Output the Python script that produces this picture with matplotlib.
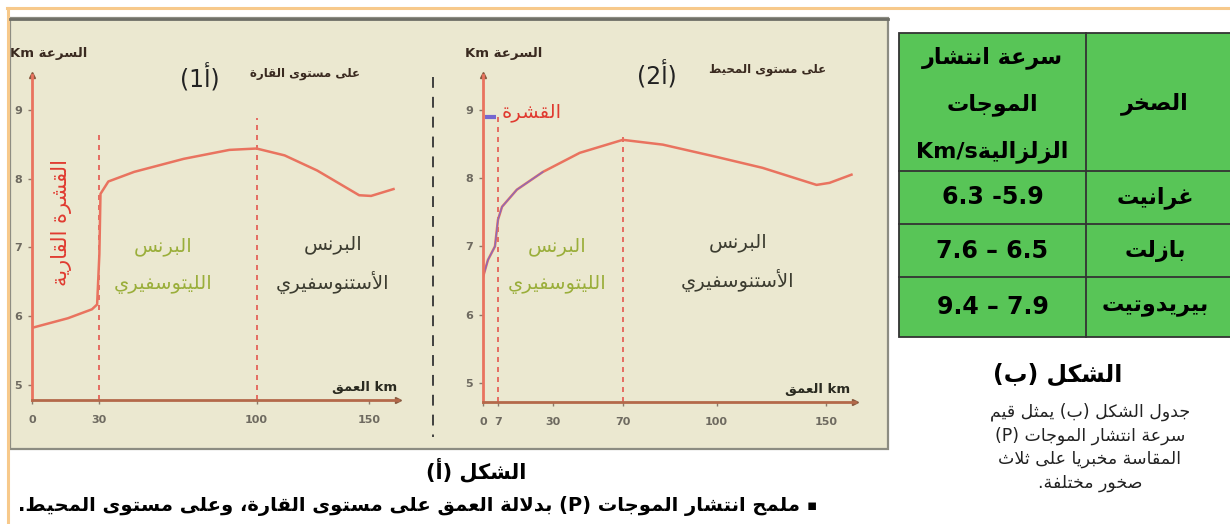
import re
import numpy as np
import matplotlib
matplotlib.use('Agg')
import matplotlib.pyplot as plt
from matplotlib.patches import Rectangle

plt.rcParams['font.family'] = ['DejaVu Sans']

# ---------------- data ----------------
cont_depth = [0, 16, 26.7, 29, 30, 30.5, 34, 45.5, 67.6, 87.9, 100, 112.5, 127, 145.7, 151, 161]
cont_speed = [5.83, 5.97, 6.1, 6.17, 6.9, 7.78, 7.96, 8.1, 8.29, 8.42, 8.44, 8.34, 8.12, 7.76, 7.75, 7.85]
ocean_depth = [0, 2.3, 5.6, 7, 8.7, 14.9, 25.8, 45.4, 70, 82.8, 100, 120.9, 145.5, 151.4, 161.4]
ocean_speed = [6.55, 6.8, 7.0, 7.39, 7.58, 7.83, 8.09, 8.37, 8.56, 8.49, 8.31, 8.15, 7.9, 7.93, 8.05]

speed_ticks = [5, 6, 7, 8, 9]
cont_xticks = [0, 30, 100, 150]
ocean_xticks = [0, 7, 30, 70, 100, 150]
cont_limits = [30, 100]
cont_limit_top = [8.65, 8.88]
ocean_limits = [7, 70]
ocean_limit_top = [8.9, 8.6]

rocks = ['غرانيت', 'بازلت', 'بيريدوتيت']
speed_ranges = ['6.3 -5.9', '7.6 – 6.5', '9.4 – 7.9']
header_speed = ['سرعة انتشار', 'الموجات', 'الزلزاليةKm/s']
header_rock = 'الصخر'
note_lines = ['جدول الشكل (ب) يمثل قيم', 'سرعة انتشار الموجات (P)',
              'المقاسة مخبريا على ثلاث', 'صخور مختلفة.']

# ---------------- minimal arabic shaping ----------------
AR_FORMS = {'ا': (0xFE8D, 2), 'أ': (0xFE83, 2), 'إ': (0xFE87, 2), 'آ': (0xFE81, 2),
            'ب': (0xFE8F, 4), 'ة': (0xFE93, 2), 'ت': (0xFE95, 4), 'ث': (0xFE99, 4),
            'ج': (0xFE9D, 4), 'ح': (0xFEA1, 4), 'خ': (0xFEA5, 4), 'د': (0xFEA9, 2),
            'ذ': (0xFEAB, 2), 'ر': (0xFEAD, 2), 'ز': (0xFEAF, 2), 'س': (0xFEB1, 4),
            'ش': (0xFEB5, 4), 'ص': (0xFEB9, 4), 'ض': (0xFEBD, 4), 'ط': (0xFEC1, 4),
            'ظ': (0xFEC5, 4), 'ع': (0xFEC9, 4), 'غ': (0xFECD, 4), 'ف': (0xFED1, 4),
            'ق': (0xFED5, 4), 'ك': (0xFED9, 4), 'ل': (0xFEDD, 4), 'م': (0xFEE1, 4),
            'ن': (0xFEE5, 4), 'ه': (0xFEE9, 4), 'و': (0xFEED, 2), 'ى': (0xFEEF, 2),
            'ي': (0xFEF1, 4)}
LAM_ALEF = {'ا': 0xFEFB, 'أ': 0xFEF7, 'إ': 0xFEF9, 'آ': 0xFEF5}


def shape(s):
    items = []
    i = 0
    while i < len(s):
        if s[i] == 'ل' and i + 1 < len(s) and s[i + 1] in LAM_ALEF:
            items.append(('LA', LAM_ALEF[s[i + 1]]))
            i += 2
        else:
            items.append((s[i], None))
            i += 1

    def joins_next(it):
        return it[1] is None and it[0] in AR_FORMS and AR_FORMS[it[0]][1] == 4

    def is_ar(it):
        return it[1] is not None or it[0] in AR_FORMS

    out = []
    for k, (c, lig) in enumerate(items):
        prev_j = k > 0 and joins_next(items[k - 1])
        next_ar = k + 1 < len(items) and is_ar(items[k + 1])
        if lig is not None:
            out.append(chr(lig + (1 if prev_j else 0)))
        elif c in AR_FORMS:
            base, n = AR_FORMS[c]
            nxt = n == 4 and next_ar
            off = 3 if (prev_j and nxt) else 2 if nxt else 1 if prev_j else 0
            out.append(chr(base + off))
        else:
            out.append(c)
    return ''.join(out)


def ar(s):
    t = shape(s)[::-1]
    t = re.sub(r'[A-Za-z0-9][A-Za-z0-9./]*', lambda m: m.group(0)[::-1], t)
    return t.translate(str.maketrans('()', ')('))


# ---------------- figure ----------------
W, H = 1230, 524
fig = plt.figure(figsize=(W / 100, H / 100), dpi=100)
fig.patch.set_facecolor('white')

bg = fig.add_axes([0, 0, 1, 1])
bg.set_xlim(0, W)
bg.set_ylim(H, 0)
bg.axis('off')

# outer orange frame lines
bg.plot([7, W], [8, 8], color='#f7c98b', lw=2.2)
bg.plot([8, 8], [8, H], color='#f7c98b', lw=2.2)

# beige panel
bg.add_patch(Rectangle((10, 18), 878, 431, facecolor='#ebe8d0', edgecolor='#8c8c82', lw=1.6))
bg.plot([10, 888], [18.5, 18.5], color='#6e6e66', lw=2)
# separator
bg.plot([433, 433], [77, 437], color='#333333', lw=1.3, dashes=(6, 5))

curve_red = '#e9735f'
dash_red = '#e4574f'


def px_axes(x0, x1, ytop, ybot):
    return fig.add_axes([x0 / W, (H - ybot) / H, (x1 - x0) / W, (ybot - ytop) / H])


def style_axes(ax):
    ax.set_facecolor('none')
    for s in ['top', 'right']:
        ax.spines[s].set_visible(False)
    ax.spines['left'].set_color(curve_red)
    ax.spines['left'].set_linewidth(2)
    ax.spines['bottom'].set_color('#b4694a')
    ax.spines['bottom'].set_linewidth(2)
    ax.tick_params(axis='both', length=3, width=1, colors='#8a7a6a', labelsize=8,
                   labelcolor='#6e6a60')
    ax.tick_params(axis='y', pad=4)
    ax.tick_params(axis='x', pad=8)
    for lab in ax.get_xticklabels() + ax.get_yticklabels():
        lab.set_fontweight('bold')
    ax.set_yticks(speed_ticks)
    ax.plot(1, 0, '>', color='#8a5a40', ms=4, transform=ax.transAxes, clip_on=False)
    ax.plot(0, 1, '^', color='#8a5a40', ms=4, transform=ax.transAxes, clip_on=False)


# left plot: continent
ax1 = px_axes(32, 398, 75, 400)
style_axes(ax1)
ax1.set_xlim(0, 163)
ax1.set_ylim(4.78, 9.51)
ax1.set_xticks(cont_xticks)
ax1.vlines(cont_limits, 4.78, cont_limit_top, colors=dash_red, lw=1.2, linestyles=(0, (3, 3)))
ax1.plot(cont_depth, cont_speed, color=curve_red, lw=1.8)

# right plot: ocean, schematic non-uniform depth axis
knot_depth = [0, 7, 30, 70, 100, 150, 170]
knot_pos = [0, 15, 70, 140, 234, 344, 388]
ax2 = px_axes(483, 855, 75, 402)
style_axes(ax2)
ax2.set_xscale('function', functions=(lambda x: np.interp(x, knot_depth, knot_pos),
                                      lambda y: np.interp(y, knot_pos, knot_depth)))
ax2.set_xlim(0, 163)
ax2.set_ylim(4.72, 9.51)
ax2.set_xticks(ocean_xticks)
ax2.set_xticklabels([str(t) for t in ocean_xticks], fontweight='bold')
ax2.minorticks_off()
ax2.vlines(ocean_limits, 4.72, ocean_limit_top, colors=dash_red, lw=1.2, linestyles=(0, (3, 3)))
ax2.plot(ocean_depth, ocean_speed, color=curve_red, lw=1.8)
crust_n = 7
ax2.plot(ocean_depth[:crust_n], ocean_speed[:crust_n], color='#7566d0', lw=1, alpha=0.8)
ax2.plot([0.8, 6], [8.9, 8.9], color='#7566d0', lw=3, solid_capstyle='butt')

# ---------------- plot texts ----------------
bold = dict(fontweight='bold')
green = '#9aae3a'
dark = '#3c3c30'
for x0 in [10, 465]:
    bg.text(x0, 53, ar('السرعة Km'), fontsize=9.5, color='#3a2a20', va='center', ha='left', **bold)

bg.text(200, 77, ar('(أ1)'), fontsize=17, ha='center', va='center', color='#222222')
bg.text(305, 73, ar('على مستوى القارة'), fontsize=8.5, ha='center', va='center', color='#3a2a20', **bold)
bg.text(657, 74, ar('(أ2)'), fontsize=17, ha='center', va='center', color='#222222')
bg.text(768, 70, ar('على مستوى المحيط'), fontsize=8.5, ha='center', va='center', color='#3a2a20', **bold)

bg.text(62, 223, ar('القشرة القارية'), fontsize=15, rotation=90, ha='center', va='center', color='#e03a30')
bg.text(532, 112, ar('القشرة'), fontsize=14, ha='center', va='center', color='#e03a30')

for cx, cy in [(163, 247), (557, 247)]:
    bg.text(cx, cy, ar('البرنس'), fontsize=14, ha='center', va='center', color=green)
    bg.text(cx, cy + 38, ar('الليتوسفيري'), fontsize=14, ha='center', va='center', color=green)
for cx, cy in [(333, 245), (738, 243)]:
    bg.text(cx, cy, ar('البرنس'), fontsize=14, ha='center', va='center', color=dark)
    bg.text(cx, cy + 38, ar('الأستنوسفيري'), fontsize=14, ha='center', va='center', color=dark)

for xr, y in [(397, 388), (850, 390)]:
    bg.text(xr, y, ar('km العمق'), fontsize=9.5, ha='right', va='center', color='#2a2a20', **bold)

# ---------------- table ----------------
tx0, tx1, tx2 = 899, 1086, 1232
row_edges = [33, 171, 224, 277, 337]
bg.add_patch(Rectangle((tx0, row_edges[0]), tx2 - tx0, row_edges[-1] - row_edges[0],
                       facecolor='#58c557', edgecolor='#333333', lw=1.3))
for y in row_edges[1:-1]:
    bg.plot([tx0, tx2], [y, y], color='#333333', lw=1.3)
bg.plot([tx1, tx1], [row_edges[0], row_edges[-1]], color='#333333', lw=1.3)

cl = (tx0 + tx1) / 2
cr = (tx1 + tx2) / 2 - 4
for i, line in enumerate(header_speed):
    bg.text(cl, 58 + i * 47, ar(line), fontsize=16, ha='center', va='center', **bold)
bg.text(cr, 104, ar(header_rock), fontsize=16, ha='center', va='center', **bold)
for i, (rock, rng) in enumerate(zip(rocks, speed_ranges)):
    yc = (row_edges[i + 1] + row_edges[i + 2]) / 2
    bg.text(cl, yc, rng, fontsize=17, ha='center', va='center', **bold)
    bg.text(cr, yc, ar(rock), fontsize=16, ha='center', va='center', **bold)

bg.text(1058, 375, ar('الشكل (ب)'), fontsize=17, ha='center', va='center', **bold)
for i, line in enumerate(note_lines):
    bg.text(1090, 412 + i * 23.5, ar(line), fontsize=12.5, ha='center', va='center', color='#222222')

# ---------------- bottom captions ----------------
bg.text(476, 470, ar('الشكل (أ)'), fontsize=15, ha='center', va='center', **bold)
bg.text(800, 506, ar('ملمح انتشار الموجات (P) بدلالة العمق على مستوى القارة، وعلى مستوى المحيط.'),
        fontsize=14, ha='right', va='center', **bold)
bg.text(812, 506, '▪', fontsize=11, ha='center', va='center')

fig.savefig('out.png', dpi=100)
